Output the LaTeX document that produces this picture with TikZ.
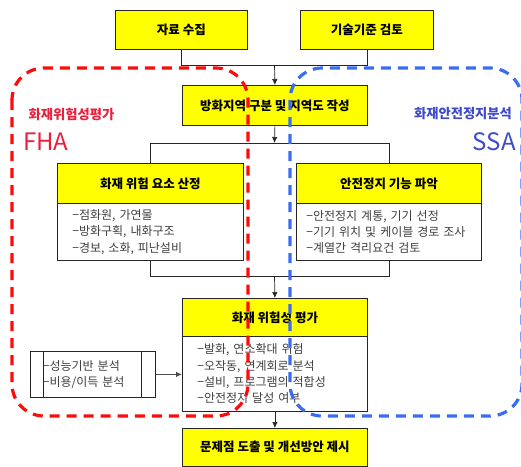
\documentclass[tikz,border=0pt]{standalone}
\usepackage{fontspec}
\setmainfont{Noto Sans CJK KR}
\usetikzlibrary{arrows.meta,calc}
\definecolor{boxyellow}{HTML}{FFFF00}
\definecolor{bodygray}{HTML}{404040}
\definecolor{fhadash}{HTML}{FF0A0A}
\definecolor{fhatext}{HTML}{EA1F3C}
\definecolor{ssadash}{HTML}{3A6CF4}
\definecolor{ssatext}{HTML}{3F4BC8}
\tikzset{
  ttl/.style={draw=black!85, fill=boxyellow, line width=0.8pt, anchor=north west,
    inner sep=0pt, font=\bfseries\fontsize{12.5}{14}\selectfont},
  bodybox/.style={draw=black!85, fill=white, line width=0.8pt, anchor=north west,
    align=left, inner ysep=0pt, text=bodygray, font=\fontsize{12}{16.3}\selectfont},
  conn/.style={line width=0.7pt, draw=black!85},
  arr/.style={conn, -{Latex[length=6pt,width=5.5pt]}},
  zonedash/.style={line width=3.2pt, dash pattern=on 10pt off 7pt, rounded corners=32pt},
}
\begin{document}
\begin{tikzpicture}[x=1pt,y=-1pt]
\useasboundingbox (0,0) rectangle (521,466);
% top boxes
\node[ttl, minimum width=132pt, minimum height=39pt] (src1) at (115,10) {자료 수집};
\node[ttl, minimum width=133pt, minimum height=39pt] (src2) at (300,10) {기술기준 검토};
\node[ttl, minimum width=185pt, minimum height=40pt] (zone) at (182,85) {방화지역 구분 및 지역도 작성};
% hazard box
\node[ttl, minimum width=186pt, minimum height=40pt] (hazT) at (57,163) {화재 위험 요소 산정};
\node[bodybox, minimum height=57pt, text width=156pt, inner xsep=15pt] (hazB) at (57,203)
  {−점화원, 가연물\\−방화구획, 내화구조\\−경보, 소화, 피난설비};
% safe shutdown box
\node[ttl, minimum width=185pt, minimum height=40pt] (ssdT) at (296,163) {안전정지 기능 파악};
\node[bodybox, minimum height=57pt, text width=165pt, inner xsep=10pt] (ssdB) at (296,203)
  {−안전정지 계통, 기기 선정\\−기기 위치 및 케이블 경로 조사\\−계열간 격리요건 검토};
% evaluation box
\node[ttl, minimum width=185pt, minimum height=38pt] (evalT) at (182,298) {화재 위험성 평가};
\node[bodybox, minimum height=75pt, text width=155pt, inner xsep=15pt] (evalB) at (182,336)
  {−발화, 연소확대 위험\\−오작동, 연계회로 분석\\−설비, 프로그램의 적합성\\−안전정지 달성 여부};
% result box
\node[ttl, minimum width=185pt, minimum height=37.5pt] (res) at (182,428) {문제점 도출 및 개선방안 제시};
% auxiliary box
\node[bodybox, minimum width=125pt, minimum height=46pt, text width=100pt, inner xsep=12.5pt] (aux) at (30,351)
  {−성능기반 분석\\−비용/이득 분석};
\draw[conn] (43,351) -- (43,397);
\draw[conn] (141,351) -- (141,397);
% connectors
\coordinate (j1) at (274.5,65);
\draw[conn] (src1.south) -- (src1.south |- j1) -- (src2.south |- j1) -- (src2.south);
\draw[arr] (j1) -- (zone.north);
\coordinate (j2) at (274.5,143);
\draw[arr] (zone.south) -- (j2);
\draw[conn] (hazT.north) -- (hazT.north |- j2) -- (ssdT.north |- j2) -- (ssdT.north);
\coordinate (j3) at (274.5,276);
\draw[conn] (hazB.south) -- (hazB.south |- j3) -- (ssdB.south |- j3) -- (ssdB.south);
\draw[arr] (j3) -- (evalT.north);
\draw[arr] (evalB.south) -- (res.north);
\draw[arr, draw=black!70, line width=1pt] (aux.east) -- (evalB.west |- aux.east);
% dashed zones
\draw[zonedash, draw=fhadash] (12,68) rectangle (248,416);
\draw[zonedash, draw=ssadash] (290,68) rectangle (522,416);
% zone labels
\node[text=fhatext, font=\bfseries\fontsize{13.3}{13}\selectfont] (fhalbl) at (71.5,114) {화재위험성평가};
\node[text=fhatext, font=\fontsize{24}{24}\selectfont, anchor=west, inner sep=0pt] (fha) at (23,142) {FHA};
\node[text=ssatext, font=\bfseries\fontsize{13.3}{13}\selectfont] (ssalbl) at (463,114) {화재안전정지분석};
\node[text=ssatext, font=\fontsize{24}{24}\selectfont, anchor=east, inner sep=0pt] (ssa) at (516,142) {SSA};
\end{tikzpicture}
\end{document}
